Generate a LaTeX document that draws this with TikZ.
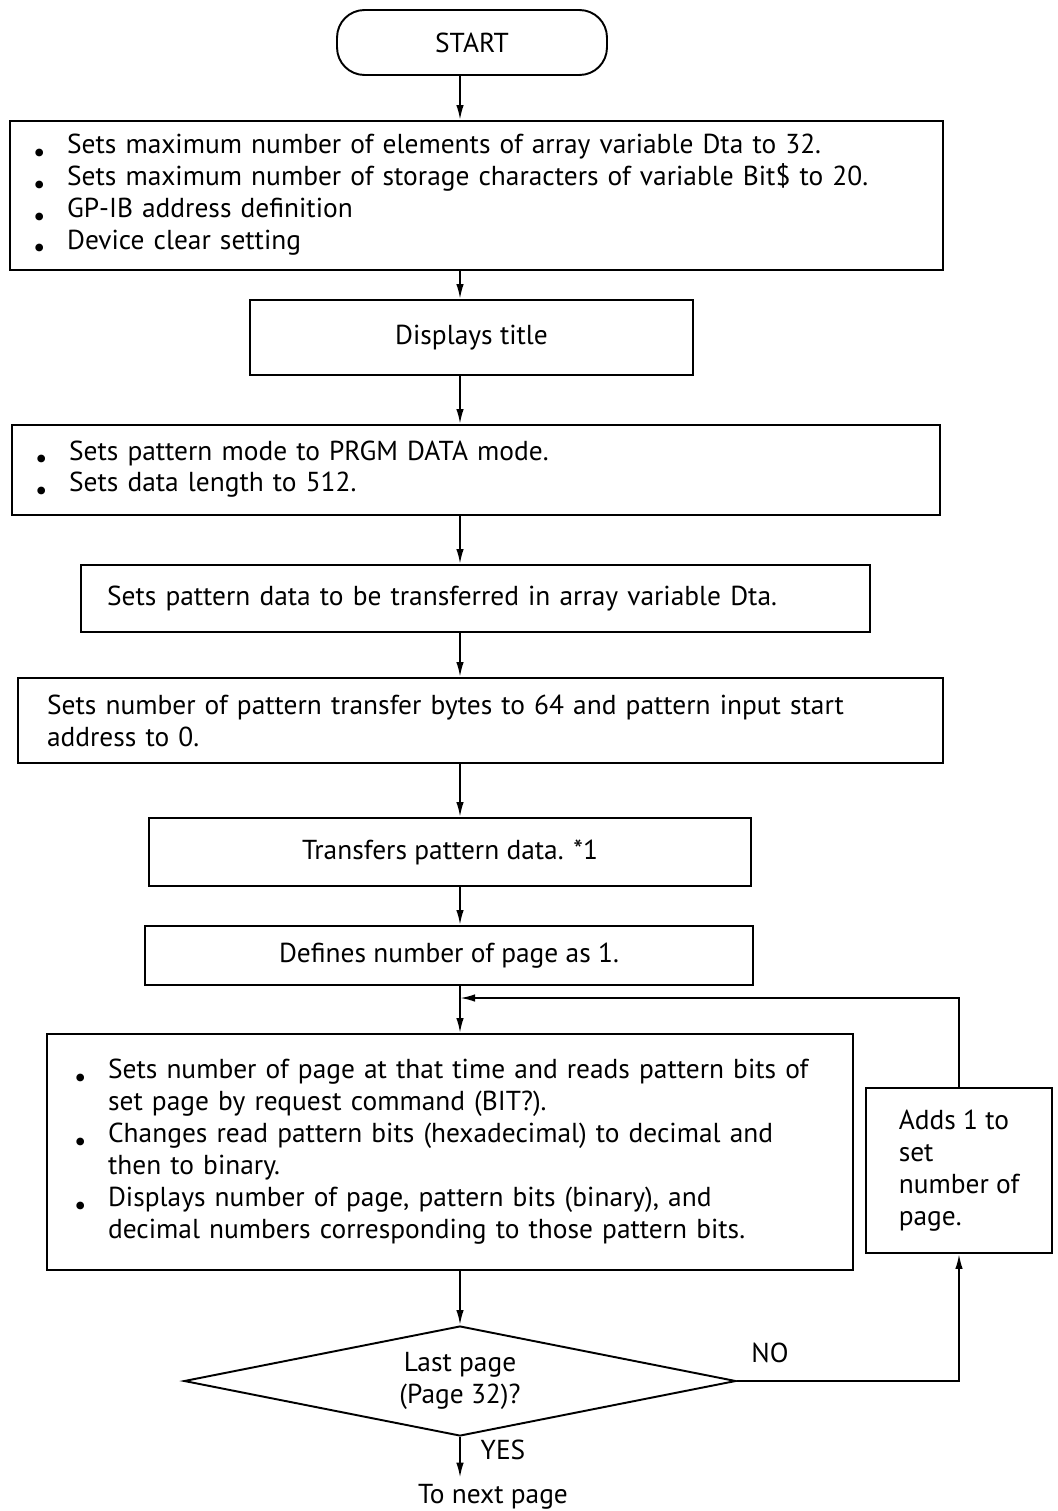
\documentclass[tikz,border=0pt]{standalone}
\usepackage{fontspec}
\setmainfont{PT Sans}
\usetikzlibrary{arrows.meta,shapes.geometric}

\newcommand{\bul}{\makebox[0.68cm][l]{\raisebox{-0.55ex}{\textbullet}}}
\newcommand{\nob}{\hspace*{0.68cm}}

\begin{document}
\begin{tikzpicture}[x=0.02cm, y=-0.02cm, line width=1.1pt]

    \tikzset{txt/.style={font=\fontsize{15.6}{18.2}\selectfont}}
    \tikzset{box/.style={draw,shape=rectangle,txt}}
    \tikzset{listbox/.style={box,align=left}}
    \tikzset{flow/.style={-{Latex[length=0.3cm,width=0.15cm]}}}

    \useasboundingbox (0,0) rectangle (1058,1511);

    \node[box,rounded corners=0.55cm,minimum width=5.4cm,minimum height=1.3cm] (start) at (472,42.5) {START};

    \node[listbox,minimum width=18.66cm,minimum height=2.98cm,inner xsep=0.46cm,text width=17.74cm] (b1) at (476.5,195.5)
        {\bul Sets maximum number of elements of array variable Dta to 32.\\
         \bul Sets maximum number of storage characters of variable Bit\$ to 20.\\
         \bul GP-IB address definition\\
         \bul Device clear setting};

    \node[box,minimum width=8.86cm,minimum height=1.5cm] (b2) at (471.5,337.5) {Displays title};

    \node[listbox,minimum width=18.56cm,minimum height=1.8cm,inner xsep=0.46cm,text width=17.64cm] (b3) at (476,470)
        {\bul Sets pattern mode to PRGM DATA mode.\\
         \bul Sets data length to 512.};

    \node[listbox,minimum width=15.78cm,minimum height=1.34cm,inner xsep=0.52cm,text width=14.74cm] (b4) at (475.5,598.5)
        {Sets pattern data to be transferred in array variable Dta.};

    \node[listbox,minimum width=18.5cm,minimum height=1.7cm,inner xsep=0.58cm,text width=17.34cm] (b5) at (480.5,720.5)
        {Sets number of pattern transfer bytes to 64 and pattern input start\\
         address to 0.};

    \node[box,minimum width=12.04cm,minimum height=1.36cm] (b6) at (450,852) {Transfers pattern data. *1};

    \node[box,minimum width=12.16cm,minimum height=1.18cm] (b7) at (449,955.5) {Defines number of page as 1.};

    \node[listbox,minimum width=16.12cm,minimum height=4.72cm,inner xsep=0.54cm,text width=15.04cm] (b8) at (450,1152)
        {\bul Sets number of page at that time and reads pattern bits of\\
         \nob set page by request command (BIT?).\\
         \bul Changes read pattern bits (hexadecimal) to decimal and\\
         \nob then to binary.\\
         \bul Displays number of page, pattern bits (binary), and\\
         \nob decimal numbers corresponding to those pattern bits.};

    \node[listbox,minimum width=3.72cm,minimum height=3.3cm] (b9) at (959,1170.5)
        {Adds 1 to\\ set\\ number of\\ page.};

    \node[draw,shape=diamond,aspect=5.02,txt,align=center,minimum width=11.04cm,minimum height=2.2cm,inner sep=0pt] (dec) at (460,1381)
        {Last page\\ (Page 32)?};

    \node[txt] (nolab) at (770,1353) {NO};
    \node[txt] (yeslab) at (503,1450) {YES};
    \node[txt] (next) at (493,1497) {To next page};

    % Flusslinien
    \coordinate (axis) at (460,0);
    \coordinate (join) at (460,998);

    \begin{scope}[every path/.style={flow}]
        \draw (start.south -| axis) -- (b1.north -| axis);
        \draw (b1.south -| axis) -- (b2.north -| axis);
        \draw (b2.south -| axis) -- (b3.north -| axis);
        \draw (b3.south -| axis) -- (b4.north -| axis);
        \draw (b4.south -| axis) -- (b5.north -| axis);
        \draw (b5.south -| axis) -- (b6.north -| axis);
        \draw (b6.south -| axis) -- (b7.north -| axis);
        \draw (b7.south -| axis) -- (b8.north -| axis);
        \draw (b8.south -| axis) -- (dec.north);
        \draw (b9.north) |- (join);
        \draw (dec.east) -| (b9.south);
        \draw (dec.south) -- (dec.south |- next.north);
    \end{scope}

\end{tikzpicture}
\end{document}
